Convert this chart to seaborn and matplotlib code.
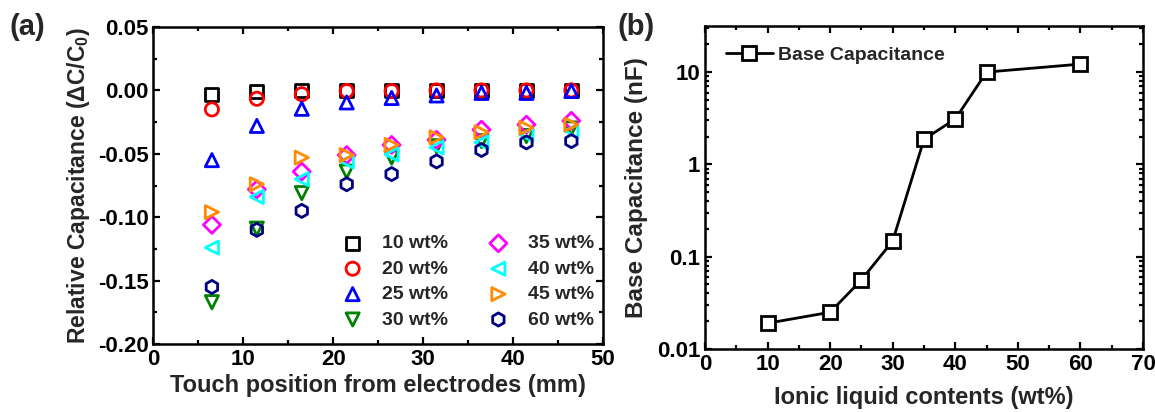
import numpy as np
import pandas as pd
import matplotlib
matplotlib.use("Agg")
import matplotlib.pyplot as plt
from matplotlib.ticker import MultipleLocator, LogLocator, NullFormatter, FixedLocator, FixedFormatter
import seaborn as sns

sns.set_style("ticks")
plt.rcParams["font.family"] = ["Liberation Sans", "DejaVu Sans"]
plt.rcParams["font.weight"] = "bold"
plt.rcParams["axes.labelweight"] = "bold"
plt.rcParams["mathtext.fontset"] = "custom"
plt.rcParams["mathtext.rm"] = "Liberation Sans:bold"
plt.rcParams["mathtext.bf"] = "Liberation Sans:bold"
plt.rcParams["mathtext.it"] = "Liberation Sans:bold"

# (a) relative capacitance vs touch position
position = [6.5, 11.5, 16.5, 21.5, 26.5, 31.5, 36.5, 41.5, 46.5]
labels_a = ["10 wt%", "20 wt%", "25 wt%", "30 wt%", "35 wt%", "40 wt%", "45 wt%", "60 wt%"]
wt10 = [-0.003, -0.001, 0.000, 0.000, 0.000, 0.000, 0.000, 0.000, 0.000]
wt20 = [-0.015, -0.0066, -0.003, -0.0005, -0.0005, 0.000, 0.000, 0.000, 0.000]
wt25 = [-0.055, -0.028, -0.0145, -0.0095, -0.006, -0.004, -0.002, -0.002, -0.0005]
wt30 = [-0.167, -0.109, -0.081, -0.064, -0.053, -0.044, -0.040, -0.036, -0.030]
wt35 = [-0.106, -0.078, -0.064, -0.051, -0.043, -0.039, -0.031, -0.027, -0.024]
wt40 = [-0.124, -0.084, -0.070, -0.056, -0.0505, -0.045, -0.041, -0.035, -0.032]
wt45 = [-0.096, -0.074, -0.053, -0.051, -0.043, -0.037, -0.033, -0.0295, -0.027]
wt60 = [-0.155, -0.110, -0.095, -0.074, -0.066, -0.056, -0.047, -0.041, -0.040]
series_a = [wt10, wt20, wt25, wt30, wt35, wt40, wt45, wt60]
colors_a = ["black", "red", "blue", "green", "magenta", "cyan", "darkorange", "navy"]
markers_a = ["s", "o", "^", "v", "D", "<", ">", "h"]

# (b) base capacitance vs ionic liquid content
content = [10, 20, 25, 30, 35, 40, 45, 60]
base_cap = [0.019, 0.025, 0.056, 0.148, 1.87, 3.1, 10, 12.2]

fig = plt.figure(figsize=(11.55, 4.12), dpi=100)
ax1 = fig.add_axes([0.1329, 0.165, 0.389, 0.7695])
ax2 = fig.add_axes([0.6104, 0.153, 0.3792, 0.784])

for vals, lab, c, m in zip(series_a, labels_a, colors_a, markers_a):
    sz = 75 if m == "D" else 90
    sns.scatterplot(x=position, y=vals, ax=ax1, marker=m, s=sz, color=c,
                    facecolor="none", edgecolor=c, linewidth=2.0, label=lab)

ax1.set_xlim(0, 50)
ax1.set_ylim(-0.20, 0.05)
ax1.xaxis.set_major_locator(MultipleLocator(10))
ax1.xaxis.set_minor_locator(MultipleLocator(5))
ax1.yaxis.set_major_locator(MultipleLocator(0.05))
ax1.yaxis.set_minor_locator(MultipleLocator(0.025))
ax1.yaxis.set_major_formatter(plt.FuncFormatter(lambda v, p: f"{v:.2f}"))
ax1.set_xlabel("Touch position from electrodes (mm)", fontsize=17, labelpad=3)
ax1.set_ylabel("Relative Capacitance (\u0394C/C$_0$)", fontsize=16.5, labelpad=4)
ax1.legend(ncol=2, frameon=False, loc="upper left", bbox_to_anchor=(0.40, 0.369),
           fontsize=14, handletextpad=0.9, columnspacing=2.0, labelspacing=0.4,
           borderaxespad=0, handlelength=1.2, markerscale=1.0)

sns.lineplot(x=content, y=base_cap, ax=ax2, color="black", linewidth=2.0,
             marker="s", markersize=10, markerfacecolor="white",
             markeredgecolor="black", markeredgewidth=2.0, label="Base Capacitance")
ax2.set_yscale("log")
ax2.set_xlim(0, 70)
ax2.set_ylim(0.01, 31.6)
ax2.xaxis.set_major_locator(MultipleLocator(10))
ax2.xaxis.set_minor_locator(MultipleLocator(5))
ax2.yaxis.set_major_locator(FixedLocator([0.01, 0.1, 1, 10]))
ax2.yaxis.set_major_formatter(FixedFormatter(["0.01", "0.1", "1", "10"]))
ax2.yaxis.set_minor_locator(LogLocator(base=10, subs=np.arange(2, 10)))
ax2.yaxis.set_minor_formatter(NullFormatter())
ax2.set_xlabel("Ionic liquid contents (wt%)", fontsize=17, labelpad=8)
ax2.set_ylabel("Base Capacitance (nF)", fontsize=17.5, labelpad=6)
ax2.legend(frameon=False, loc="upper left", bbox_to_anchor=(0.03, 0.96),
           fontsize=14, handlelength=2.4, handletextpad=0.3, borderaxespad=0)

for ax in (ax1, ax2):
    for sp in ax.spines.values():
        sp.set_visible(True)
        sp.set_linewidth(1.8)
        sp.set_color("black")
    ax.tick_params(which="both", direction="in", top=True, right=True,
                   width=1.6, colors="black", labelsize=16)
    ax.tick_params(which="major", length=5)
    ax.tick_params(which="minor", length=3)
    for t in ax.get_xticklabels() + ax.get_yticklabels():
        t.set_fontweight("bold")

fig.text(0.008, 0.935, "(a)", fontsize=21, fontweight="bold", va="center")
fig.text(0.535, 0.935, "(b)", fontsize=21, fontweight="bold", va="center")

fig.savefig("out.png", dpi=100)
